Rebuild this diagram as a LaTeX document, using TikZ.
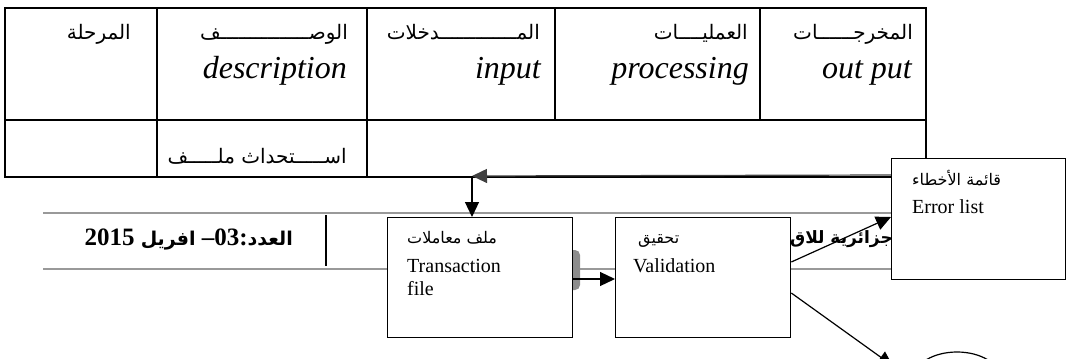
\documentclass[tikz,border=0pt]{standalone}
\usepackage{fontspec}
\setmainfont{Liberation Serif}
\newfontfamily\arabicfont[Script=Arabic]{DejaVu Sans}
\TeXXeTstate=1
\usetikzlibrary{arrows.meta}
\tikzset{
  tbl/.style={line width=1.6pt},
  hdrline/.style={draw=black!40, line width=2pt},
  flowbox/.style={draw, line width=1.3pt, fill=white, inner sep=0pt, anchor=north west},
  arr/.style={-{Triangle[length=15pt,width=14pt]}, line width=1.2pt},
  arh/.style={font=\fontsize{20}{22}\selectfont\arabicfont, inner sep=0pt, anchor=base east},
  enh/.style={font=\fontsize{32}{34}\selectfont\itshape, inner sep=0pt, anchor=base east},
  btxt/.style={font=\fontsize{20}{22}\selectfont, inner sep=0pt, anchor=base west},
  barh/.style={font=\fontsize{16}{18}\selectfont\arabicfont, inner sep=0pt, anchor=base west},
}
\begin{document}
\begin{tikzpicture}[x=1pt,y=-1pt]
\useasboundingbox (0,0) rectangle (1072,359);
\clip (0,0) rectangle (1072,359);
% ---------- table ----------
\draw[tbl] (5,8) rectangle (926,177);
\draw[tbl] (5,120) -- (926,120);
\draw[tbl] (157,8) -- (157,177);
\draw[tbl] (367,8) -- (367,177);
\draw[tbl] (555,8) -- (555,120);
\draw[tbl] (760,8) -- (760,120);
\node[arh] (c1a) at (131,39) {\beginR المرحلة\endR};
\node[arh] (c2a) at (348,39) {\beginR الوصـــــــــــــــف\endR};
\node[enh] (c2e) at (347,78) {description};
\node[arh] (c3a) at (540,39) {\beginR المـــــــــــــدخلات\endR};
\node[arh] (c4a) at (748,39) {\beginR العمليــــات\endR};
\node[enh] (c3e) at (541,78) {input};
\node[enh] (c4e) at (749,78) {processing};
\node[arh] (c5a) at (913,39) {\beginR المخرجــــــات\endR};
\node[enh] (c5e) at (912,78) {out put};
\node[arh] (r2a) at (347,163) {\beginR اســـــتحداث ملـــــف\endR};
% ---------- page header strip ----------
\draw[hdrline] (43,213) -- (891,213);
\draw[hdrline] (43,269) -- (891,269);
\draw[line width=1.2pt] (326,215) -- (326,266);
\node[inner sep=0pt, anchor=base east, font=\fontsize{25}{28}\selectfont\bfseries] (issue) at (293,245)
  {\beginR{\arabicfont\fontsize{19}{22}\selectfont العدد}:\beginL 03\endL– {\arabicfont\fontsize{19}{22}\selectfont افريل} \beginL 2015\endL\endR};
\node[inner sep=0pt, anchor=base east, font=\fontsize{17}{20}\selectfont\bfseries\arabicfont] (journal) at (893,243)
  {\beginR جزائرية للاق\endR};
\fill[black!45, rounded corners=5pt] (560,250) rectangle (580,290);
% ---------- flow boxes ----------
\node[flowbox, minimum width=185pt, minimum height=120pt] (trans) at (387,217) {};
\node[flowbox, minimum width=175pt, minimum height=120pt] (valid) at (615,217) {};
\node[flowbox, minimum width=174pt, minimum height=121pt] (err) at (891,158) {};
\draw[line width=1.2pt] (957,378) ellipse (43pt and 26pt);
\node[barh] (transar) at (407,243) {\beginR ملف معاملات\endR};
\node[btxt] (transen) at (407,272) {Transaction};
\node[btxt] (transen2) at (407,295) {file};
\node[barh] (validar) at (638,243) {\beginR تحقيق\endR};
\node[btxt] (validen) at (633,272) {Validation};
\node[barh] (errar) at (912,185) {\beginR قائمة الأخطاء\endR};
\node[btxt] (erren) at (912,213) {Error list};
% ---------- connectors ----------
\coordinate (corner) at (472,176);
\coordinate (out) at (893,366);
\draw[arr, draw=black!75] (err.west |- 0,175) -- (corner);
\draw[arr] (corner) -- (corner |- trans.north);
\draw[arr] (trans.east |- 0,279) -- (valid.west |- 0,279);
\draw[arr] (valid.east |- 0,262) -- (err.west |- 0,217);
\draw[arr] (valid.east |- 0,293) -- (out);
\end{tikzpicture}
\end{document}
